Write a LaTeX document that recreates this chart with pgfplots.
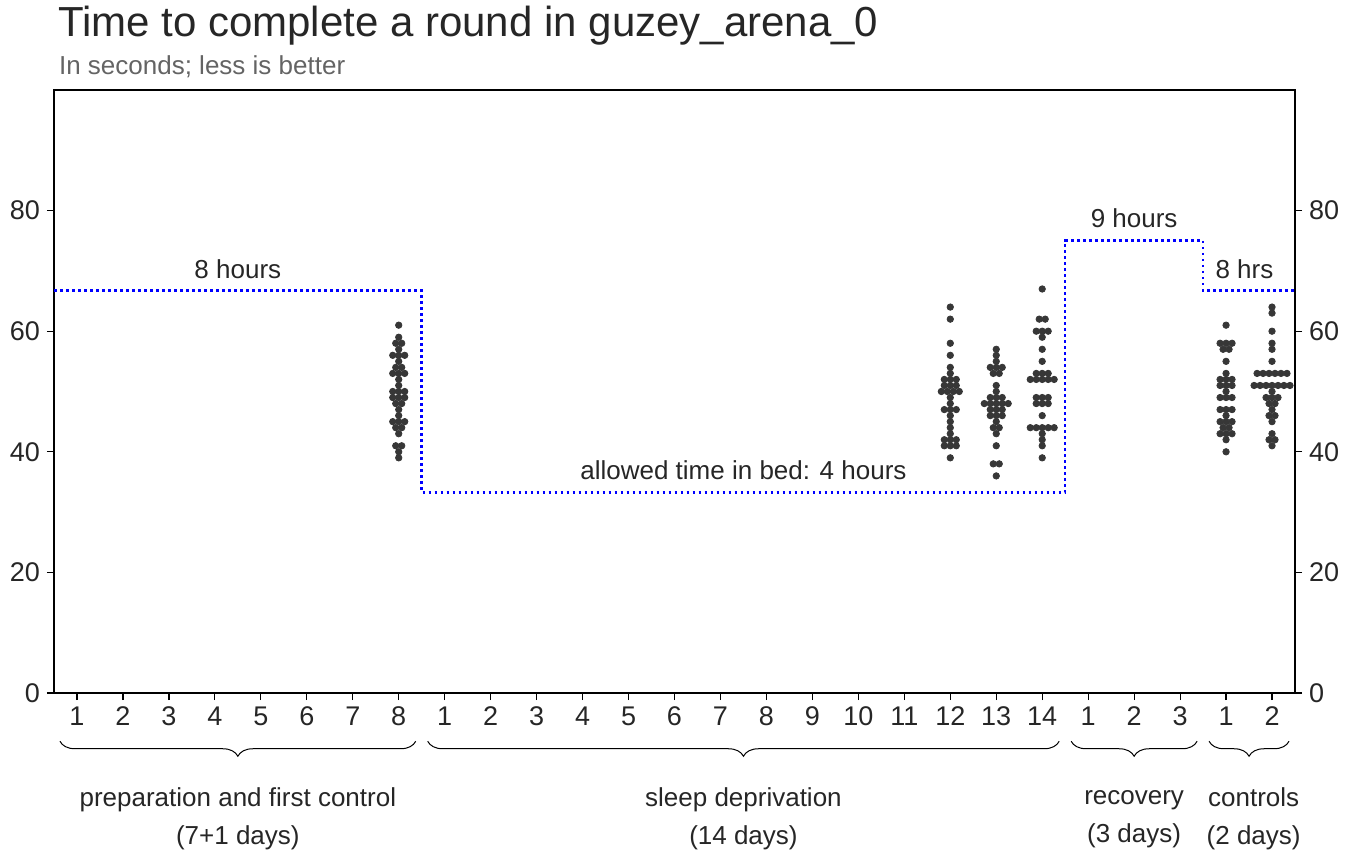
\documentclass[border=0pt]{standalone}
\usepackage{fontspec}
\setmainfont{Liberation Sans}
\usepackage{pgfplots}
\pgfplotsset{compat=1.18}
\usepgfplotslibrary{statistics}
\usetikzlibrary{calc,decorations.pathreplacing}
\definecolor{pinkc}{RGB}{255,218,218}
\definecolor{bluec}{RGB}{172,196,240}
\definecolor{edge}{RGB}{68,68,68}
\definecolor{dotc}{RGB}{55,55,55}
\definecolor{subc}{RGB}{100,100,100}
\begin{document}
\begin{tikzpicture}
\pgfplotsset{every axis/.append style={scale only axis, width=620.5pt, height=301.5pt,
  xmin=-0.5, xmax=26.5, ymin=0, ymax=100,
  /pgf/number format/assume math mode=true,
  tick label style={font=\fontsize{13.5}{15}\selectfont, color=black!85},
  tick align=outside, major tick length=3.5pt, tick style={black, line width=0.6pt}}}
\begin{axis}[name=ax, clip=false, axis line style={line width=0.7pt},
  ytick={0,20,40,60,80}, ytick pos=left, xtick pos=bottom,
  xtick={0,...,26},
  xticklabels={1,2,3,4,5,6,7,8,1,2,3,4,5,6,7,8,9,10,11,12,13,14,1,2,3,1,2},
  boxplot/box extend=0.8, boxplot/whisker extend=0.4]
\addplot[blue, line width=1.3pt, dash pattern=on 1.3pt off 1.7pt] coordinates {
(-0.5,66.7)(7.5,66.7)(7.5,33.3)(21.5,33.3)(21.5,75)(24.5,75)(24.5,66.7)(26.5,66.7)};
\pgfplotsset{bx/.style={draw=edge, line width=0.9pt, solid, mark=none}}
\addplot+[bx, fill=pinkc, boxplot prepared={draw position=7, lower whisker=39, lower quartile=45, median=49, upper quartile=53, upper whisker=61}] coordinates {};
\addplot+[bx, fill=bluec, boxplot prepared={draw position=19, lower whisker=39, lower quartile=44, median=49, upper quartile=52, upper whisker=64}] coordinates {};
\addplot+[bx, fill=bluec, boxplot prepared={draw position=20, lower whisker=41, lower quartile=46, median=48, upper quartile=51, upper whisker=57}] coordinates {};
\addplot+[bx, fill=bluec, boxplot prepared={draw position=21, lower whisker=39, lower quartile=45, median=51, upper quartile=53, upper whisker=62}] coordinates {};
\addplot+[bx, fill=pinkc, boxplot prepared={draw position=25, lower whisker=40, lower quartile=45, median=49, upper quartile=53, upper whisker=61}] coordinates {};
\addplot+[bx, fill=pinkc, boxplot prepared={draw position=26, lower whisker=41, lower quartile=48, median=51, upper quartile=53, upper whisker=60}] coordinates {};
\addplot[only marks, mark=*, mark size=1.6pt, mark options={fill=dotc, draw=dotc}] coordinates {
(7,61)(7,59)(6.935,58)(7.065,58)(7,57)(6.87,56)(7,56)(7.13,56)(7,55)(6.935,54)(7.065,54)(6.87,53)(7,53)(7.13,53)(7,52)(7,51)(6.87,50)(7,50)(7.13,50)(6.87,49)(7,49)(7.13,49)(6.935,48)(7.065,48)(7,47)(7,46)(6.87,45)(7,45)(7.13,45)(6.935,44)(7.065,44)(7,43)(6.935,41)(7.065,41)(7,40)(7,39)
(19,64)(19,62)(19,58)(19,56)(19,54)(19,53)(18.87,52)(19,52)(19.13,52)(18.87,51)(19,51)(19.13,51)(18.805,50)(18.935,50)(19.065,50)(19.195,50)(19,49)(19,48)(18.87,47)(19,47)(19.13,47)(19,46)(19,45)(19,44)(19,43)(18.87,42)(19,42)(19.13,42)(18.87,41)(19,41)(19.13,41)(19,39)
(20,57)(20,56)(20,55)(19.87,54)(20,54)(20.13,54)(19.935,53)(20.065,53)(20,51)(20,50)(19.87,49)(20,49)(20.13,49)(19.74,48)(19.87,48)(20,48)(20.13,48)(20.26,48)(19.87,47)(20,47)(20.13,47)(19.87,46)(20,46)(20.13,46)(20,45)(19.935,44)(20.065,44)(20,43)(20,41)(19.935,38)(20.065,38)(20,36)
(21,67)(20.935,62)(21.065,62)(20.87,60)(21,60)(21.13,60)(21,59)(21,57)(21,55)(20.87,53)(21,53)(21.13,53)(20.74,52)(20.87,52)(21,52)(21.13,52)(21.26,52)(20.87,49)(21,49)(21.13,49)(20.87,48)(21,48)(21.13,48)(21,46)(20.74,44)(20.87,44)(21,44)(21.13,44)(21.26,44)(21,43)(21,42)(21,41)(21,39)
(25,61)(24.87,58)(25,58)(25.13,58)(24.935,57)(25.065,57)(25,55)(25,53)(24.87,52)(25,52)(25.13,52)(24.87,51)(25,51)(25.13,51)(25,50)(24.87,49)(25,49)(25.13,49)(24.87,47)(25,47)(25.13,47)(25,46)(24.87,45)(25,45)(25.13,45)(24.935,44)(25.065,44)(24.87,43)(25,43)(25.13,43)(25,42)(25,40)
(26,64)(26,63)(26,60)(26,58)(26,57)(26,55)(25.675,53)(25.805,53)(25.935,53)(26.065,53)(26.195,53)(26.325,53)(25.61,51)(25.74,51)(25.87,51)(26,51)(26.13,51)(26.26,51)(26.39,51)(26,50)(25.87,49)(26,49)(26.13,49)(25.935,48)(26.065,48)(26,47)(25.935,46)(26.065,46)(26,45)(26,43)(25.935,42)(26.065,42)(26,41)};
\tikzset{ann/.style={font=\fontsize{13}{15}\selectfont, text=black!85}}
\node[ann] at (axis cs:3.5,70.3) {8 hours};
\node[ann] at (axis cs:14.5,36.9) {allowed time in bed: 4 hours};
\node[ann] at (axis cs:23,78.8) {9 hours};
\node[ann] at (axis cs:25.4,70.3) {8 hrs};
\tikzset{br/.style={decorate, decoration={brace, mirror, amplitude=7.5pt}, line width=0.5pt}}
\draw[br] (axis cs:-0.37,-8) -- (axis cs:7.37,-8);
\draw[br] (axis cs:7.63,-8) -- (axis cs:21.37,-8);
\draw[br] (axis cs:21.63,-8) -- (axis cs:24.37,-8);
\draw[br] (axis cs:24.63,-8) -- (axis cs:26.37,-8);
\tikzset{gl/.style={ann, align=center, font=\fontsize{13}{19}\selectfont}}
\node[gl] at (axis cs:3.5,-20.9) {preparation and first control\\(7+1 days)};
\node[gl] at (axis cs:14.5,-20.9) {sleep deprivation\\(14 days)};
\node[gl] at (axis cs:23,-20.9) {recovery\\(3 days)};
\node[gl] at (axis cs:25.6,-20.9) {controls\\(2 days)};
\end{axis}
\begin{axis}[axis x line=none, axis y line*=right, ytick={0,20,40,60,80},
  axis line style={line width=0.7pt}]
\addplot[draw=none] coordinates {(0,0)};
\end{axis}
\node[anchor=west, font=\fontsize{21}{25}\selectfont, text=black!85] at ($(ax.north west)+(-1.5pt,32pt)$) {Time to complete a round in guzey\_arena\_0};
\node[anchor=west, font=\fontsize{13}{15}\selectfont, text=subc] at ($(ax.north west)+(-1pt,11.5pt)$) {In seconds; less is better};
\pgfresetboundingbox
\useasboundingbox ($(ax.south west)+(-27pt,-85pt)$) rectangle ($(ax.north east)+(26.5pt,45pt)$);
\end{tikzpicture}
\end{document}
